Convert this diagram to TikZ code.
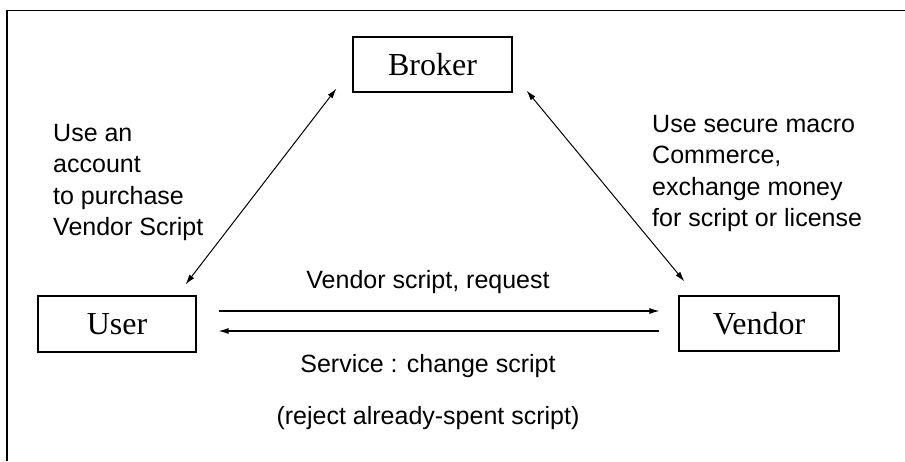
\documentclass[tikz,border=0pt]{standalone}
\usepackage{fontspec}
\setmainfont{Liberation Serif}
\setsansfont{Liberation Sans}
\usetikzlibrary{arrows.meta}
\begin{document}
\begin{tikzpicture}[x=1pt,y=-1pt,
  party/.style={draw,line width=1.2pt,minimum width=159pt,minimum height=55pt,
    inner sep=0pt,font=\fontsize{32}{32}\selectfont},
  note/.style={inner sep=0pt,font=\sffamily\fontsize{25}{31.5}\selectfont},
  link/.style={line width=1pt,{Latex[length=10pt,width=6pt]}-{Latex[length=10pt,width=6pt]}},
  flow/.style={line width=1.1pt,-{Latex[length=10pt,width=6pt]}}]
\useasboundingbox (0,0) rectangle (905,461);
% open frame: top and left edges only
\draw[line width=1.4pt] (905,10.5) -- (7,10.5) -- (7,461);

% parties
\node[party] (broker) at (432.5,64.5) {Broker};
\node[party,minimum width=158pt,minimum height=56pt] (user) at (117,324) {User};
\node[party,minimum width=160pt] (vendor) at (759,323.5) {Vendor};

% ends of the diagonal links
\coordinate (bl) at ([shift={(-16,-4)}]broker.south west);
\coordinate (ul) at ([shift={(-11,-11)}]user.north east);
\coordinate (br) at ([shift={(14,-2)}]broker.south east);
\coordinate (vl) at ([shift={(6,-14)}]vendor.north west);
\draw[link] (ul) -- (bl);
\draw[link] (vl) -- (br);

% request / service flows
\coordinate (r0) at ([shift={(22,-13)}]user.east);
\coordinate (r1) at ([shift={(-19,-12.5)}]vendor.west);
\coordinate (s0) at ([shift={(-19,7.5)}]vendor.west);
\coordinate (s1) at ([shift={(22,7)}]user.east);
\draw[flow] (r0) -- (r1);
\draw[flow] (s0) -- (s1);

% labels
\node[note,anchor=north west,align=left] (ltxt) at (53,124)
  {Use an\\account\\to purchase\\Vendor Script};
\node[note,anchor=north west,align=left] (rtxt) at (652,115)
  {Use secure macro\\Commerce,\\exchange money\\for script or license};
\node[note,anchor=base] (req) at (428,288) {Vendor script, request};
\node[note,anchor=base] (svc) at (428,372) {Service : change script};
\node[note,anchor=base] (rej) at (428,424) {(reject already-spent script)};
\end{tikzpicture}
\end{document}
